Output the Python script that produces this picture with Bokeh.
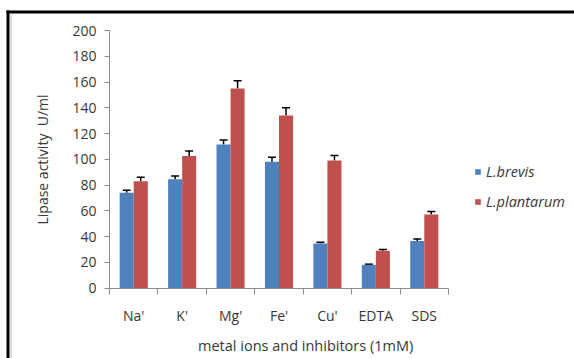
from bokeh.plotting import figure
from bokeh.models import (ColumnDataSource, FixedTicker, Whisker, TeeHead, Legend,
                          LegendItem, Label, Range1d, BoxAnnotation)
from bokeh.embed import file_html
from bokeh.resources import INLINE

categories = ["Na'", "K'", "Mg'", "Fe'", "Cu'", "EDTA", "SDS"]
brevis = [74, 84.5, 111.5, 98, 34.5, 18, 36.6]
brevis_err = [2, 2.5, 3.5, 3.5, 1, 0.5, 1.5]
plantarum = [83, 102.6, 155, 134, 99, 29, 57]
plantarum_err = [3, 3.8, 6, 6, 4, 1, 2.5]
series_names = ["L.brevis", "L.plantarum"]
colors = ["#4F81BD", "#C0504D"]
y_ticks = [0, 20, 40, 60, 80, 100, 120, 140, 160, 180, 200]

FONT = "Open Sans"
n = len(categories)
centers = [i + 0.5 for i in range(n)]
off = 0.145
bw = 0.29

# canvas fills the window; the frame covers the whole canvas and the axes
# are drawn at fixed data locations inside it
W, H = 574, 358
ax_left, ax_right = 109, 448      # canvas px of x=0 and x=n
ax_top, ax_bot = 30, 287.5        # canvas px of y=200 and y=0
ppx = (ax_right - ax_left) / n
ppy = (ax_bot - ax_top) / 200.0
x0 = -ax_left / ppx
x1 = n + (W - ax_right) / ppx
y1 = 200 + ax_top / ppy
y0 = -(H - ax_bot) / ppy

p = figure(width=W, height=H, output_backend="svg", toolbar_location=None,
           title=None, x_range=Range1d(x0, x1), y_range=Range1d(y0, y1),
           min_border=0)
p.outline_line_color = None
p.xgrid.grid_line_color = None
p.ygrid.grid_line_color = None
p.background_fill_color = "white"
p.border_fill_color = "white"

renderers = []
for k, (vals, errs) in enumerate([(brevis, brevis_err), (plantarum, plantarum_err)]):
    xs = [c + (-off if k == 0 else off) for c in centers]
    src = ColumnDataSource(dict(x=xs, top=vals,
                                upper=[v + e for v, e in zip(vals, errs)]))
    r = p.vbar(x="x", top="top", width=bw, bottom=0, source=src,
               fill_color=colors[k], line_color=None)
    renderers.append(r)
    w = Whisker(base="x", upper="upper", lower="top", source=src,
                line_color="black", line_width=1.5,
                upper_head=TeeHead(size=8, line_color="black", line_width=1.5),
                lower_head=None)
    p.add_layout(w)

axis_color = "#8C8C8C"
label_color = "#383838"

xa = p.xaxis[0]
xa.fixed_location = 0
xa.bounds = (0, n)
xa.ticker = FixedTicker(ticks=centers, minor_ticks=list(range(n + 1)))
xa.major_label_overrides = {c: cat for c, cat in zip(centers, categories)}
xa.major_tick_line_color = None
xa.major_tick_out = 0
xa.major_tick_in = 0
xa.minor_tick_line_color = axis_color
xa.minor_tick_out = 6
xa.minor_tick_in = 0
xa.axis_line_color = axis_color
xa.major_label_text_font = FONT
xa.major_label_text_font_size = "14px"
xa.major_label_text_color = label_color
xa.major_label_standoff = 12

ya = p.yaxis[0]
ya.fixed_location = 0
ya.bounds = (0, 200)
ya.ticker = FixedTicker(ticks=y_ticks)
ya.minor_tick_line_color = None
ya.major_tick_line_color = axis_color
ya.major_tick_out = 5
ya.major_tick_in = 0
ya.axis_line_color = axis_color
ya.major_label_text_font = FONT
ya.major_label_text_font_size = "14px"
ya.major_label_text_color = label_color
ya.major_label_standoff = 8
ya.axis_label = "Lipase activity\u00a0 U/ml"
ya.axis_label_text_font = FONT
ya.axis_label_text_font_size = "14px"
ya.axis_label_text_font_style = "normal"
ya.axis_label_text_color = label_color
ya.axis_label_standoff = 17

p.add_layout(Label(x=4.05, y=-44.4, text="metal ions and inhibitors (1mM)",
                   text_font=FONT, text_font_size="14.5px", text_color=label_color,
                   text_align="center", text_baseline="middle"))

# black frame lines at the top and left of the picture, thin grey inner line
p.add_layout(BoxAnnotation(left=x0 + 6 / ppx, right=x0 + 9 / ppx, bottom=y0,
                           top=y1 - 10 / ppy, fill_color="black", fill_alpha=1,
                           line_color=None))
p.add_layout(BoxAnnotation(left=x0 + 6 / ppx, right=x1, bottom=y1 - 13 / ppy,
                           top=y1 - 10 / ppy, fill_color="black", fill_alpha=1,
                           line_color=None))
p.add_layout(BoxAnnotation(left=x0 + 10 / ppx, right=x0 + 11 / ppx, bottom=y0,
                           top=y1 - 13 / ppy, fill_color="#BEBEBE", fill_alpha=1,
                           line_color=None))

legend = Legend(items=[LegendItem(label=series_names[i], renderers=[renderers[i]])
                       for i in range(2)],
                location=(474, 147), orientation="vertical",
                label_text_font=FONT, label_text_font_size="14.5px",
                label_text_font_style="italic", label_text_color=label_color,
                glyph_width=7, glyph_height=7, label_height=17, spacing=11,
                label_standoff=5, padding=0, margin=0,
                border_line_color=None, background_fill_alpha=0)
p.add_layout(legend)

open("out.html", "w").write(file_html(p, INLINE))
